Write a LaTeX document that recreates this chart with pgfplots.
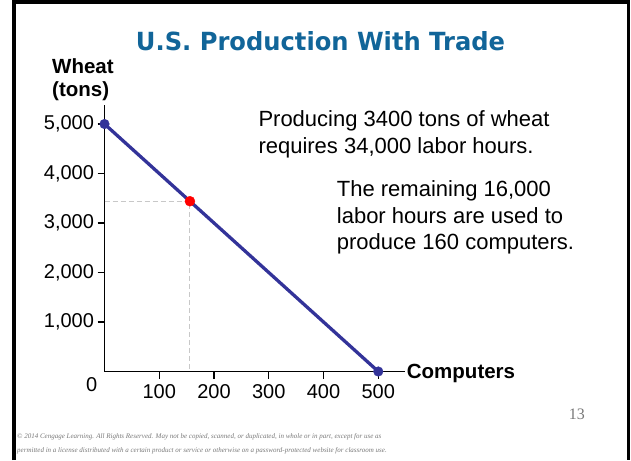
\documentclass[border=0pt]{standalone}
\usepackage{fontspec}
\setmainfont{Liberation Sans}
\newfontfamily\titlefont{DejaVu Sans}
\newfontfamily\serifrm{Liberation Serif}
\usepackage{graphicx}
\usepackage{pgfplots}
\pgfplotsset{compat=1.18}
\definecolor{titleblue}{RGB}{17,101,153}
\definecolor{lineblue}{RGB}{51,51,153}
\definecolor{dashgray}{RGB}{200,200,200}
\definecolor{copygray}{RGB}{120,120,120}
\begin{document}
\begin{tikzpicture}[x=1pt,y=1pt]
\useasboundingbox (0,0) rectangle (631,460);
\draw[black, line width=3.5pt] (14.2,0) -- (14.2,458.2) -- (628.7,458.2) -- (628.7,0);
\fill[black] (12.5,0) rectangle (16,460);
\begin{axis}[
  at={(104.5pt,88.5pt)}, anchor=south west,
  scale only axis, width=300.6pt, height=266.5pt,
  xmin=0, xmax=549, ymin=0, ymax=5384,
  axis x line=bottom, axis y line=left,
  axis line style={-, line width=1.2pt, black},
  xtick={100,200,300,400,500}, xticklabels={100,200,300,400,500},
  ytick={1000,2000,3000,4000,5000},
  yticklabels={{1,000},{2,000},{3,000},{4,000},{5,000}},
  tick align=outside, major tick length=7pt,
  every tick/.style={black, line width=1.2pt},
  tick label style={font=\fontsize{20}{24}\selectfont},
  xticklabel style={yshift=-3pt},
  clip=false,
]
\addplot[dashgray, line width=1pt, dash pattern=on 5pt off 3pt] coordinates {(0,3440) (156,3440) (156,0)};
\addplot[lineblue, line width=3.3pt] coordinates {(0,5000) (500,0)};
\addplot[only marks, mark=*, mark size=4.8pt, color=lineblue] coordinates {(0,5000) (500,0)};
\addplot[only marks, mark=*, mark size=5pt, color=red] coordinates {(156,3440)};
\node[font=\fontsize{20}{24}\selectfont, xshift=-12.8pt, yshift=-13.5pt] at (axis cs:0,0) {0};
\end{axis}
\node[anchor=base, inner sep=0] at (320.5,409) {\resizebox{369pt}{\height}{\color{titleblue}\titlefont\bfseries\fontsize{25}{30}\selectfont U.S. Production With Trade}};
\begin{scope}[every node/.style={anchor=base west, inner sep=0}]
\node[font=\bfseries\fontsize{20.5}{24}\selectfont] at (52,386) {Wheat};
\node[font=\bfseries\fontsize{20.5}{24}\selectfont] at (52,363.3) {(tons)};
\node[font=\bfseries\fontsize{20.5}{24}\selectfont] at (406.7,81.7) {Computers};
\node[font=\fontsize{22}{26}\selectfont] at (258.3,333.3) {Producing 3400 tons of wheat};
\node[font=\fontsize{22}{26}\selectfont] at (258.3,306.7) {requires 34,000 labor hours.};
\node[font=\fontsize{22}{26}\selectfont] at (336.7,263.3) {The remaining 16,000};
\node[font=\fontsize{22}{26}\selectfont] at (336.7,236.7) {labor hours are used to};
\node[font=\fontsize{22}{26}\selectfont] at (336.7,210) {produce 160 computers.};
\node[font=\serifrm\itshape\fontsize{7}{8}\selectfont, text=copygray] at (17,21) {\textcopyright{} 2014 Cengage Learning. All Rights Reserved. May not be copied, scanned, or duplicated, in whole or in part, except for use as};
\node[font=\serifrm\itshape\fontsize{7}{8}\selectfont, text=copygray] at (17,8) {permitted in a license distributed with a certain product or service or otherwise on a password-protected website for classroom use.};
\end{scope}
\node[anchor=base east, inner sep=0, font=\serifrm\fontsize{16}{18}\selectfont, text=copygray] at (585,41) {13};
\end{tikzpicture}
\end{document}
